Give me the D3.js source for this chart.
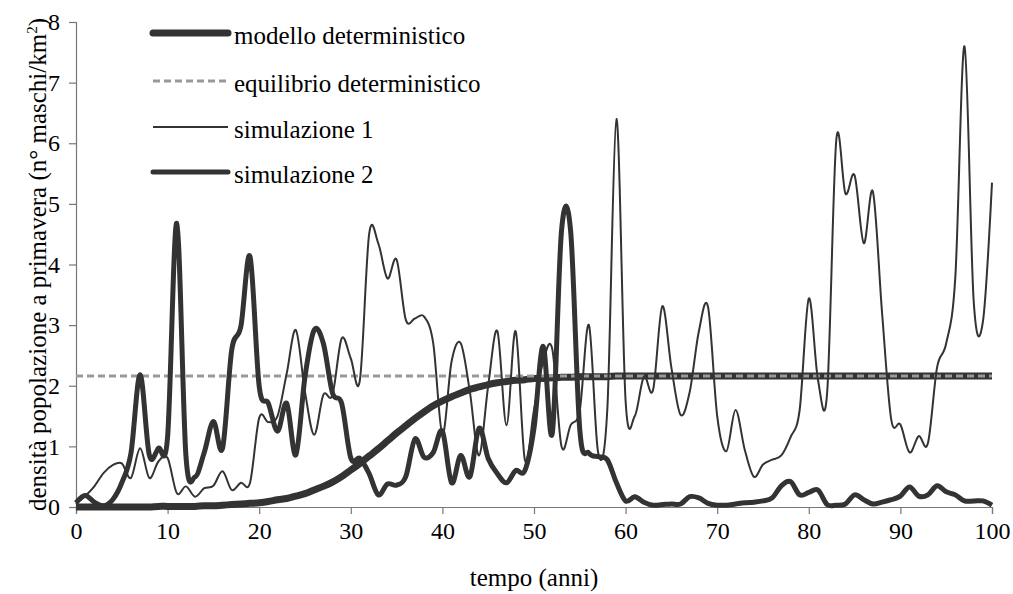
<!DOCTYPE html>
<html>
<head>
<meta charset="utf-8">
<script src="https://cdn.jsdelivr.net/npm/d3@7"></script>
<style>
  body { margin: 0; background: #fff; }
  text { font-family: "Liberation Serif", "Times New Roman", "DejaVu Serif", serif; fill: #000; }
</style>
</head>
<body>
<div class="chart"></div>
<script>
// anni (asse x)
const years = [0,1,2,3,4,5,6,7,8,9,10,11,12,13,14,15,16,17,18,19,20,21,22,23,24,25,26,27,28,29,30,
  31,32,33,34,35,36,37,38,39,40,41,42,43,44,45,46,47,48,49,50,51,52,53,54,55,56,57,58,59,60,
  61,62,63,64,65,66,67,68,69,70,71,72,73,74,75,76,77,78,79,80,81,82,83,84,85,86,87,88,89,90,
  91,92,93,94,95,96,97,98,99,100];

// modello deterministico
const modello = [0.00,0.00,0.00,0.00,0.00,0.00,0.00,0.00,0.00,0.01,0.01,0.01,0.01,0.01,0.02,0.02,0.03,0.04,0.05,0.06,0.07,
  0.09,0.12,0.14,0.18,0.22,0.28,0.34,0.41,0.50,0.61,0.72,0.84,0.96,1.09,1.22,1.34,1.46,1.57,1.67,1.75,
  1.82,1.88,1.94,1.98,2.02,2.05,2.07,2.09,2.10,2.12,2.12,2.13,2.14,2.14,2.15,2.15,2.15,2.15,2.16,2.16,
  2.16,2.16,2.16,2.16,2.16,2.16,2.16,2.16,2.16,2.16,2.16,2.16,2.16,2.16,2.16,2.16,2.16,2.16,2.16,2.16,
  2.16,2.16,2.16,2.16,2.16,2.16,2.16,2.16,2.16,2.16,2.16,2.16,2.16,2.16,2.16,2.16,2.16,2.16,2.16,2.16];

// equilibrio deterministico
const equilibrio = 2.16;

// simulazione 1 (linea sottile)
const sim1 = [0.05,0.18,0.34,0.56,0.69,0.72,0.48,0.97,0.48,0.75,0.81,0.23,0.34,0.17,0.31,0.35,0.59,0.28,0.40,0.40,1.47,
  1.40,1.50,2.20,2.92,1.90,1.19,1.85,1.85,2.78,2.45,2.10,4.50,4.35,3.77,4.08,3.09,3.11,3.14,2.70,1.20,
  2.40,2.70,1.90,0.85,2.00,2.90,1.35,2.90,0.78,1.60,2.40,2.60,1.00,1.35,1.60,3.00,0.90,1.60,6.40,1.75,
  1.50,2.15,1.93,3.31,2.30,1.52,1.90,2.90,3.30,1.50,0.92,1.60,0.95,0.50,0.70,0.78,0.85,1.15,1.60,3.44,
  2.10,1.88,6.05,5.17,5.47,4.35,5.20,3.20,1.44,1.36,0.90,1.17,1.05,2.30,2.70,3.80,7.60,3.40,3.05,5.35];

// simulazione 2 (linea spessa)
const sim2 = [0.07,0.19,0.08,0.02,0.12,0.40,0.89,2.18,0.86,0.97,1.16,4.68,0.85,0.50,0.90,1.41,0.97,2.59,2.98,4.13,1.99,
  1.71,1.25,1.71,0.86,2.15,2.92,2.70,1.88,1.71,0.81,0.80,0.55,0.20,0.38,0.36,0.50,1.12,0.82,0.90,1.25,
  0.40,0.85,0.50,1.30,0.80,0.55,0.40,0.60,0.60,1.30,2.65,1.22,4.55,4.55,1.27,0.89,0.83,0.78,0.40,0.10,
  0.17,0.08,0.03,0.04,0.05,0.05,0.17,0.15,0.06,0.03,0.03,0.05,0.07,0.08,0.10,0.15,0.35,0.42,0.20,0.24,
  0.28,0.04,0.03,0.05,0.20,0.12,0.05,0.08,0.12,0.18,0.33,0.18,0.20,0.35,0.25,0.20,0.10,0.10,0.10,0.03];

const xTicks = [0,10,20,30,40,50,60,70,80,90,100];
const yTicks = [0,1,2,3,4,5,6,7,8];

const legendItems = ["modello deterministico", "equilibrio deterministico", "simulazione 1", "simulazione 2"];

const width = 1013, height = 594;
const margin = {left: 76, right: 21, top: 22, bottom: 87};
const serif = "'Liberation Serif', 'Times New Roman', 'DejaVu Serif', serif";

const svg = d3.select(".chart").append("svg")
  .attr("width", width)
  .attr("height", height);

const x = d3.scaleLinear().domain([0, 100]).range([margin.left, width - margin.right]);
const y = d3.scaleLinear().domain([0, 8]).range([height - margin.bottom, margin.top]);

// assi
const xAxis = svg.append("g")
  .attr("transform", `translate(0,${y(0)})`)
  .call(d3.axisBottom(x).tickValues(xTicks).tickSize(7).tickPadding(8).tickFormat(d3.format("d")));
const yAxis = svg.append("g")
  .attr("transform", `translate(${x(0)},0)`)
  .call(d3.axisLeft(y).tickValues(yTicks).tickSize(7).tickPadding(9).tickFormat(d3.format("d")));

[xAxis, yAxis].forEach(a => {
  a.attr("font-family", serif);
  a.select(".domain").attr("stroke", "#777").attr("stroke-width", 1.2);
  a.selectAll(".tick line").attr("stroke", "#777").attr("stroke-width", 1.2);
  a.selectAll(".tick text").attr("font-size", 24).attr("fill", "#000")
    .style("font-family", serif);
});

const line = d3.line()
  .x((d, i) => x(years[i]))
  .y(d => y(d))
  .curve(d3.curveCardinal.tension(0));

// modello deterministico
svg.append("path")
  .datum(modello)
  .attr("d", line)
  .attr("fill", "none")
  .attr("stroke", "#333")
  .attr("stroke-width", 7);

// equilibrio
svg.append("line")
  .attr("x1", x(0)).attr("x2", x(100))
  .attr("y1", y(equilibrio)).attr("y2", y(equilibrio))
  .attr("stroke", "#999")
  .attr("stroke-width", 3)
  .attr("stroke-dasharray", "7,4");

// simulazione 1
svg.append("path")
  .datum(sim1)
  .attr("d", line)
  .attr("fill", "none")
  .attr("stroke", "#333")
  .attr("stroke-width", 2);

// simulazione 2
svg.append("path")
  .datum(sim2)
  .attr("d", line)
  .attr("fill", "none")
  .attr("stroke", "#333")
  .attr("stroke-width", 5)
  .attr("stroke-linejoin", "round");

// legenda
const legStyles = [
  {w: 7, c: "#333", dash: null, cap: "round"},
  {w: 3, c: "#999", dash: "7,4", cap: "butt"},
  {w: 2, c: "#333", dash: null, cap: "butt"},
  {w: 5, c: "#333", dash: null, cap: "round"}
];
const legY = [33, 81, 127, 172];
const leg = svg.append("g");
legendItems.forEach((name, i) => {
  const s = legStyles[i];
  leg.append("line")
    .attr("x1", 153).attr("x2", 228)
    .attr("y1", legY[i]).attr("y2", legY[i])
    .attr("stroke", s.c).attr("stroke-width", s.w)
    .attr("stroke-linecap", s.cap)
    .attr("stroke-dasharray", s.dash);
  leg.append("text")
    .attr("x", 234).attr("y", legY[i] + 11)
    .attr("font-size", 25)
    .style("font-family", serif)
    .text(name);
});

// titoli assi
svg.append("text")
  .attr("x", x(50)).attr("y", 586)
  .attr("text-anchor", "middle")
  .attr("font-size", 25)
  .style("font-family", serif)
  .text("tempo (anni)");

const yl = svg.append("text")
  .attr("transform", `translate(46,${(y(0) + y(8)) / 2}) rotate(-90)`)
  .attr("text-anchor", "middle")
  .attr("font-size", 25)
  .style("font-family", serif);
yl.append("tspan").text("densità popolazione a primavera (n° maschi/km");
yl.append("tspan").attr("font-size", 15).attr("dy", -9).text("2");
yl.append("tspan").attr("dy", 9).text(")");
</script>
</body>
</html>
